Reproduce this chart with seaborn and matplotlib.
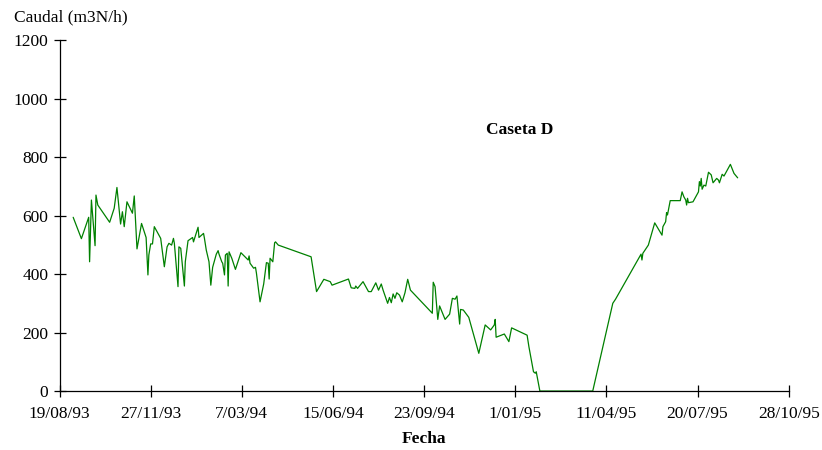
import pandas as pd
import matplotlib.pyplot as plt
import seaborn as sns

# === Data ===
start_date = '1993-08-19'
days = [15, 24, 32, 33, 35, 39, 40, 42, 55, 60, 62, 63, 67, 69, 71, 74, 80, 82, 85, 90,
        95, 97, 98, 100, 102, 104, 111, 115, 118, 120, 123, 125, 126, 130, 131, 133, 137, 138, 141, 146,
        147, 152, 153, 158, 159, 161, 164, 166, 168, 172, 174, 175, 178, 179, 181, 182, 184, 185, 186, 189,
        193, 199, 207, 208, 209, 213, 215, 216, 220, 224, 227, 229, 230, 231, 234, 236, 237, 240, 276, 282,
        290, 297, 299, 317, 320, 324, 325, 327, 333, 339, 342, 347, 350, 353, 355, 360, 362, 364, 366, 368,
        370, 373, 376, 379, 382, 385, 409, 410, 412, 415, 417, 423, 428, 431, 434, 436, 439, 440, 443, 449,
        460, 467, 473, 477, 478, 479, 488, 493, 496, 513, 515, 520, 522, 523, 527, 585, 607, 610, 638, 639,
        640, 646, 653, 661, 662, 665, 666, 667, 670, 681, 683, 685, 687, 688, 689, 690, 695, 698, 701, 702,
        703, 704, 705, 707, 709, 712, 715, 717, 721, 723, 724, 727, 729, 736, 740, 744]
caudal = [594, 521, 594, 442, 653, 497, 670, 636, 577, 625, 674, 696, 571, 613, 562, 647, 608, 667, 486, 573,
          525, 397, 465, 503, 503, 562, 522, 425, 493, 505, 499, 522, 505, 357, 493, 488, 359, 442, 514, 525,
          510, 560, 525, 539, 522, 482, 442, 362, 423, 468, 480, 468, 442, 437, 397, 465, 471, 359, 476, 454,
          416, 473, 448, 462, 437, 420, 423, 404, 305, 366, 439, 437, 383, 454, 442, 507, 510, 499, 459, 340,
          382, 374, 362, 383, 353, 351, 359, 351, 374, 340, 340, 370, 345, 366, 345, 300, 320, 302, 332, 317,
          336, 328, 305, 336, 382, 345, 266, 372, 357, 245, 291, 245, 263, 317, 314, 325, 229, 279, 277, 252,
          129, 226, 209, 226, 245, 184, 195, 169, 216, 191, 151, 66, 61, 66, 0, 0, 300, 314, 468, 448,
          471, 499, 575, 533, 562, 579, 610, 602, 651, 651, 681, 664, 653, 636, 659, 644, 647, 664, 681, 716,
          701, 727, 690, 704, 701, 748, 739, 712, 727, 721, 712, 741, 735, 775, 744, 729]

tick_dates = pd.date_range(start_date, periods=9, freq='100D')
tick_labels = [f"{d.day}/{d.month:02d}/{d.year % 100:02d}" for d in tick_dates]

df = pd.DataFrame({
    'fecha': pd.to_datetime(start_date) + pd.to_timedelta(days, unit='D'),
    'caudal': caudal,
})

# === Style ===
sns.set_style('white')
plt.rcParams['font.family'] = ['Liberation Serif', 'DejaVu Serif']
plt.rcParams['text.color'] = 'black'

fig = plt.figure(figsize=(8.22, 4.5), dpi=100)
ax = fig.add_axes([0.0724, 0.131, 0.8871, 0.78])

sns.lineplot(data=df, x='fecha', y='caudal', ax=ax, color='#008000', linewidth=0.9,
             estimator=None, sort=False)

ax.set_xlim(tick_dates[0], tick_dates[-1])
ax.set_ylim(0, 1200)
ax.set_xticks(tick_dates)
ax.set_xticklabels(tick_labels, fontsize=12.5)
ax.set_yticks(range(0, 1201, 200))
ax.set_yticklabels([str(v) for v in range(0, 1201, 200)], fontsize=12.5)
ax.tick_params(bottom=True, left=True, direction='inout', length=8, width=0.9,
               color='black', labelcolor='black')
ax.tick_params(axis='x', pad=7)
ax.tick_params(axis='y', pad=4)

for side in ['top', 'right']:
    ax.spines[side].set_visible(False)
for side in ['left', 'bottom']:
    ax.spines[side].set_color('black')
    ax.spines[side].set_linewidth(0.9)

ax.set_xlabel('Fecha', fontsize=12.5, fontweight='bold', labelpad=6, color='black')
ax.set_ylabel('')
fig.text(14 / 822, 1 - 17 / 450, 'Caudal (m3N/h)', fontsize=12.5, va='center', ha='left',
         color='black')
ax.text(0.585, 0.744, 'Caseta D', transform=ax.transAxes, fontsize=12.5,
        fontweight='bold', va='center', ha='left', color='black')

plt.savefig('out.png', dpi=100)
